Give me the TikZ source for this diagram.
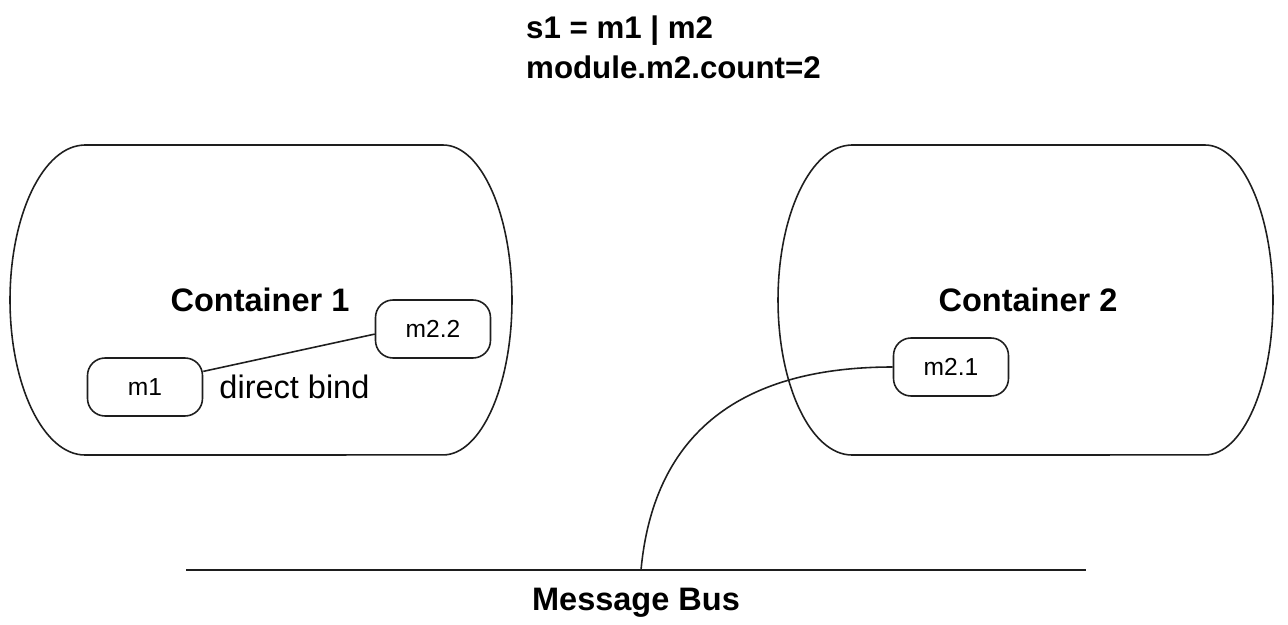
\documentclass[tikz,border=0pt]{standalone}
\usepackage{fontspec}
\setmainfont{Liberation Sans}
\usetikzlibrary{positioning, calc}
\definecolor{linegray}{RGB}{30,30,30}

\begin{document}
\begin{tikzpicture}[
    x=0.02cm, y=-0.02cm,
    module/.style={rectangle, draw=linegray, line width=0.9pt, rounded corners=0.35cm,
                minimum width=2.3cm, minimum height=1.16cm, align=center,
                font=\fontsize{14}{16}\selectfont},
    container/.style={draw=linegray, line width=0.9pt},
    biglabel/.style={font=\fontsize{18.5}{22}\selectfont\bfseries},
    plainlabel/.style={font=\fontsize{18.5}{22}\selectfont},
    wire/.style={line width=0.9pt, linegray}
]
\useasboundingbox (0,0) rectangle (1288,625);

% Containers
\draw[container] (85,145) -- (443,145) arc(90:-90:1.38cm and 3.1cm) -- (85,455) arc(270:90:1.5cm and 3.1cm) -- cycle;
\draw[container] (852,145) -- (1205,145) arc(90:-90:1.36cm and 3.1cm) -- (852,455) arc(270:90:1.48cm and 3.1cm) -- cycle;

\node[biglabel] (lbl1) at (260,300) {Container 1};
\node[biglabel] (lbl2) at (1028,300) {Container 2};

% Modules
\node[module] (m1) at (145,387) {m1};
\node[module] (m22) at (433,329) {m2.2};
\node[module] (m21) at (951,367) {m2.1};
\node[plainlabel, right=0.2cm of m1] (bindlabel) {direct bind};

\draw[wire] (m1.15) -- (m22.185);

% Message bus
\coordinate (busL) at (186,570);
\coordinate (busR) at (1086,570);
\coordinate (busJ) at (641,570);
\draw[wire] (busL) -- (busR);
\node[biglabel] (buslabel) at (636,603) {Message Bus};
\draw[wire] (m21.west) .. controls +(-160,0) and +(12,-130) .. (busJ);

% Title
\node[biglabel, font=\fontsize{17.8}{22.8}\selectfont\bfseries, align=left, anchor=north west] (title) at (520,10) {s1 = m1 | m2\\module.m2.count=2};

\end{tikzpicture}
\end{document}
